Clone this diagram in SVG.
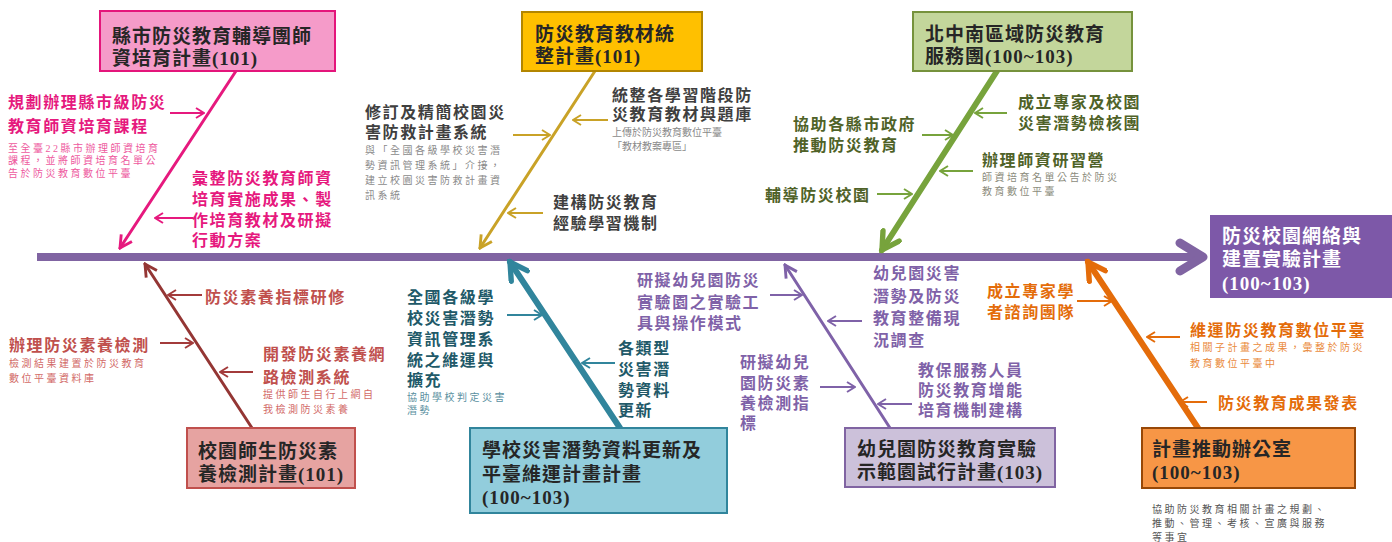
<svg xmlns="http://www.w3.org/2000/svg" width="1392" height="542" viewBox="0 0 1392 542">
<style>
text { font-family: "Liberation Serif", "Noto Sans CJK TC", "Noto Sans CJK SC", serif; }
.h { font-size: 19px; font-weight: 700; fill: #262626; letter-spacing: 1px; }
.hw { font-size: 19px; font-weight: 700; fill: #ffffff; letter-spacing: 1px; }
.m { font-size: 16px; font-weight: 700; letter-spacing: 1.6px; }
.s { font-size: 10px; letter-spacing: 2.5px; }
.box { stroke-width: 2; }
.arr { fill: none; stroke-width: 2; }
.bone { fill: none; stroke-linecap: round; }
</style>
<defs>
  <marker id="a-pink" viewBox="0 0 10 12" refX="9" refY="6" markerWidth="10" markerHeight="12" markerUnits="userSpaceOnUse" orient="auto"><path d="M1,1 L9,6 L1,11" fill="none" stroke="#E6197E" stroke-width="2"/></marker>
  <marker id="a-yel" viewBox="0 0 10 12" refX="9" refY="6" markerWidth="10" markerHeight="12" markerUnits="userSpaceOnUse" orient="auto"><path d="M1,1 L9,6 L1,11" fill="none" stroke="#C9A227" stroke-width="2"/></marker>
  <marker id="a-grn" viewBox="0 0 10 12" refX="9" refY="6" markerWidth="10" markerHeight="12" markerUnits="userSpaceOnUse" orient="auto"><path d="M1,1 L9,6 L1,11" fill="none" stroke="#77A33C" stroke-width="2"/></marker>
  <marker id="a-red" viewBox="0 0 10 12" refX="9" refY="6" markerWidth="10" markerHeight="12" markerUnits="userSpaceOnUse" orient="auto"><path d="M1,1 L9,6 L1,11" fill="none" stroke="#A33B3B" stroke-width="2"/></marker>
  <marker id="a-teal" viewBox="0 0 10 12" refX="9" refY="6" markerWidth="10" markerHeight="12" markerUnits="userSpaceOnUse" orient="auto"><path d="M1,1 L9,6 L1,11" fill="none" stroke="#31859C" stroke-width="2"/></marker>
  <marker id="a-pur" viewBox="0 0 10 12" refX="9" refY="6" markerWidth="10" markerHeight="12" markerUnits="userSpaceOnUse" orient="auto"><path d="M1,1 L9,6 L1,11" fill="none" stroke="#7F62A8" stroke-width="2"/></marker>
  <marker id="a-org" viewBox="0 0 10 12" refX="9" refY="6" markerWidth="10" markerHeight="12" markerUnits="userSpaceOnUse" orient="auto"><path d="M1,1 L9,6 L1,11" fill="none" stroke="#E46C0A" stroke-width="2"/></marker>

  <marker id="b-pink" viewBox="0 0 20 20" refX="18" refY="10" markerWidth="16" markerHeight="16" markerUnits="userSpaceOnUse" orient="auto"><path d="M3,2 L18,10 L3,18" fill="none" stroke="#E6197E" stroke-width="3.6"/></marker>
  <marker id="b-yel" viewBox="0 0 20 20" refX="18" refY="10" markerWidth="16" markerHeight="16" markerUnits="userSpaceOnUse" orient="auto"><path d="M3,2 L18,10 L3,18" fill="none" stroke="#C9A227" stroke-width="3.6"/></marker>
  <marker id="b-grn" viewBox="0 0 20 20" refX="17" refY="10" markerWidth="24" markerHeight="24" markerUnits="userSpaceOnUse" orient="auto"><path d="M3,2 L17,10 L3,18" fill="none" stroke="#77A33C" stroke-width="4.5" stroke-linecap="round"/></marker>
  <marker id="b-red" viewBox="0 0 20 20" refX="18" refY="10" markerWidth="16" markerHeight="16" markerUnits="userSpaceOnUse" orient="auto"><path d="M3,2 L18,10 L3,18" fill="none" stroke="#943634" stroke-width="3.6"/></marker>
  <marker id="b-teal" viewBox="0 0 20 20" refX="17" refY="10" markerWidth="24" markerHeight="24" markerUnits="userSpaceOnUse" orient="auto"><path d="M3,2 L17,10 L3,18" fill="none" stroke="#31859C" stroke-width="4.5" stroke-linecap="round"/></marker>
  <marker id="b-pur" viewBox="0 0 20 20" refX="18" refY="10" markerWidth="16" markerHeight="16" markerUnits="userSpaceOnUse" orient="auto"><path d="M3,2 L18,10 L3,18" fill="none" stroke="#7F62A8" stroke-width="3.6"/></marker>
  <marker id="b-org" viewBox="0 0 20 20" refX="17" refY="10" markerWidth="24" markerHeight="24" markerUnits="userSpaceOnUse" orient="auto"><path d="M3,2 L17,10 L3,18" fill="none" stroke="#E46C0A" stroke-width="4.5" stroke-linecap="round"/></marker>
</defs>

<rect x="0" y="0" width="1392" height="542" fill="#ffffff"/>

<!-- connectors -->
<g id="connectors">
  <!-- spine -->
  <line x1="37" y1="257" x2="1200" y2="257" stroke="#8064A2" stroke-width="8"/>
  <path d="M1180,243 L1203,257 L1180,271" fill="none" stroke="#8064A2" stroke-width="9" stroke-linecap="round" stroke-linejoin="round"/>

  <!-- bones -->
  <line class="bone" x1="236" y1="71" x2="120" y2="248" stroke="#E6197E" stroke-width="3" marker-end="url(#b-pink)"/>
  <line class="bone" x1="595" y1="71" x2="480" y2="248" stroke="#C9A227" stroke-width="3" marker-end="url(#b-yel)"/>
  <line class="bone" x1="997" y1="71" x2="882" y2="250" stroke="#77A33C" stroke-width="6" marker-end="url(#b-grn)"/>
  <line class="bone" x1="252" y1="428" x2="145" y2="264" stroke="#943634" stroke-width="3" marker-end="url(#b-red)"/>
  <line class="bone" x1="620" y1="428" x2="510" y2="262" stroke="#31859C" stroke-width="6" marker-end="url(#b-teal)"/>
  <line class="bone" x1="890" y1="428" x2="785" y2="265" stroke="#7F62A8" stroke-width="3" marker-end="url(#b-pur)"/>
  <line class="bone" x1="1198" y1="428" x2="1088" y2="262" stroke="#E46C0A" stroke-width="6" marker-end="url(#b-org)"/>

  <!-- small arrows -->
  <line class="arr" x1="170" y1="113" x2="204" y2="113" stroke="#E6197E" marker-end="url(#a-pink)"/>
  <line class="arr" x1="193" y1="218" x2="155" y2="218" stroke="#E6197E" marker-end="url(#a-pink)"/>

  <line class="arr" x1="513" y1="135" x2="550" y2="135" stroke="#C9A227" marker-end="url(#a-yel)"/>
  <line class="arr" x1="608" y1="120" x2="573" y2="120" stroke="#C9A227" marker-end="url(#a-yel)"/>
  <line class="arr" x1="543" y1="213" x2="508" y2="213" stroke="#C9A227" marker-end="url(#a-yel)"/>

  <line class="arr" x1="1007" y1="113" x2="975" y2="113" stroke="#77A33C" marker-end="url(#a-grn)"/>
  <line class="arr" x1="922" y1="135" x2="953" y2="135" stroke="#77A33C" marker-end="url(#a-grn)"/>
  <line class="arr" x1="973" y1="171" x2="940" y2="171" stroke="#77A33C" marker-end="url(#a-grn)"/>
  <line class="arr" x1="877" y1="194" x2="912" y2="194" stroke="#77A33C" marker-end="url(#a-grn)"/>

  <line class="arr" x1="202" y1="295" x2="168" y2="295" stroke="#A33B3B" marker-end="url(#a-red)"/>
  <line class="arr" x1="160" y1="343" x2="193" y2="343" stroke="#A33B3B" marker-end="url(#a-red)"/>
  <line class="arr" x1="253" y1="372" x2="220" y2="372" stroke="#A33B3B" marker-end="url(#a-red)"/>

  <line class="arr" x1="507" y1="315" x2="542" y2="315" stroke="#31859C" marker-end="url(#a-teal)"/>
  <line class="arr" x1="615" y1="363" x2="582" y2="363" stroke="#31859C" marker-end="url(#a-teal)"/>

  <line class="arr" x1="770" y1="295" x2="802" y2="295" stroke="#7F62A8" marker-end="url(#a-pur)"/>
  <line class="arr" x1="862" y1="321" x2="828" y2="321" stroke="#7F62A8" marker-end="url(#a-pur)"/>
  <line class="arr" x1="820" y1="387" x2="855" y2="387" stroke="#7F62A8" marker-end="url(#a-pur)"/>
  <line class="arr" x1="912" y1="404" x2="878" y2="404" stroke="#7F62A8" marker-end="url(#a-pur)"/>

  <line class="arr" x1="1077" y1="301" x2="1112" y2="301" stroke="#E46C0A" marker-end="url(#a-org)"/>
  <line class="arr" x1="1180" y1="337" x2="1147" y2="337" stroke="#E46C0A" marker-end="url(#a-org)"/>
  <line class="arr" x1="1207" y1="402" x2="1180" y2="402" stroke="#E46C0A" marker-end="url(#a-org)"/>
</g>

<!-- head -->
<g id="head">
  <rect x="1210" y="215" width="182" height="83" fill="#7D58A8"/>
  <text class="hw" x="1222" y="243">防災校園網絡與</text>
  <text class="hw" x="1222" y="266">建置實驗計畫</text>
  <text class="hw" x="1222" y="290">(100~103)</text>
</g>

<!-- top: pink -->
<g id="n-pink">
  <rect class="box" x="100" y="11" width="235" height="60" fill="#F59BC9" stroke="#E4157B"/>
  <text class="h" x="112" y="43">縣市防災教育輔導團師</text>
  <text class="h" x="112" y="65">資培育計畫(101)</text>
  <g fill="#E6197E">
    <text class="m" x="8" y="108">規劃辦理縣市級防災</text>
    <text class="m" x="8" y="132">教育師資培育課程</text>
    <text class="m" x="192" y="184">彙整防災教育師資</text>
    <text class="m" x="192" y="205">培育實施成果、製</text>
    <text class="m" x="192" y="226">作培育教材及研擬</text>
    <text class="m" x="192" y="246">行動方案</text>
  </g>
  <g fill="#EE5A9E">
    <text class="s" x="8" y="152">至全臺22縣市辦理師資培育</text>
    <text class="s" x="8" y="164">課程，並將師資培育名單公</text>
    <text class="s" x="8" y="177">告於防災教育數位平臺</text>
  </g>
</g>

<!-- top: yellow -->
<g id="n-yellow">
  <rect class="box" x="522" y="12" width="180" height="59" fill="#FFC000" stroke="#B38600"/>
  <text class="h" x="535" y="41">防災教育教材統</text>
  <text class="h" x="535" y="63">整計畫(101)</text>
  <g fill="#3F3F3F">
    <text class="m" x="365" y="118">修訂及精簡校園災</text>
    <text class="m" x="365" y="138">害防救計畫系統</text>
    <text class="m" x="612" y="101">統整各學習階段防</text>
    <text class="m" x="612" y="120">災教育教材與題庫</text>
    <text class="m" x="553" y="208">建構防災教育</text>
    <text class="m" x="553" y="229">經驗學習機制</text>
  </g>
  <g fill="#8A8A8A">
    <text class="s" x="365" y="154">與「全國各級學校災害潛</text>
    <text class="s" x="365" y="169">勢資訊管理系統」介接，</text>
    <text class="s" x="365" y="184">建立校園災害防救計畫資</text>
    <text class="s" x="365" y="199">訊系統</text>
    <text class="s" x="612" y="136" style="letter-spacing:0">上傳於防災教育數位平臺</text>
    <text class="s" x="612" y="150" style="letter-spacing:0">「教材教案專區」</text>
  </g>
</g>

<!-- top: green -->
<g id="n-green">
  <rect class="box" x="913" y="12" width="219" height="59" fill="#C3D69B" stroke="#76923C"/>
  <text class="h" x="925" y="41">北中南區域防災教育</text>
  <text class="h" x="925" y="63">服務團(100~103)</text>
  <g fill="#4F6228">
    <text class="m" x="1018" y="108">成立專家及校園</text>
    <text class="m" x="1018" y="129">災害潛勢檢核團</text>
    <text class="m" x="793" y="130">協助各縣市政府</text>
    <text class="m" x="793" y="151">推動防災教育</text>
    <text class="m" x="982" y="166">辦理師資研習營</text>
    <text class="m" x="765" y="201">輔導防災校園</text>
  </g>
  <g fill="#8C8C7C">
    <text class="s" x="982" y="181">師資培育名單公告於防災</text>
    <text class="s" x="982" y="195">教育數位平臺</text>
  </g>
</g>

<!-- bottom: red -->
<g id="n-red">
  <rect class="box" x="187" y="428" width="168" height="60" fill="#E6A3A1" stroke="#C0504D"/>
  <text class="h" x="198" y="458">校園師生防災素</text>
  <text class="h" x="198" y="481">養檢測計畫(101)</text>
  <g fill="#C0504D">
    <text class="m" x="205" y="303">防災素養指標研修</text>
    <text class="m" x="9" y="351">辦理防災素養檢測</text>
    <text class="m" x="263" y="360">開發防災素養網</text>
    <text class="m" x="263" y="383">路檢測系統</text>
  </g>
  <g fill="#D26A67">
    <text class="s" x="9" y="367">檢測結果建置於防災教育</text>
    <text class="s" x="9" y="382">數位平臺資料庫</text>
    <text class="s" x="263" y="398">提供師生自行上網自</text>
    <text class="s" x="263" y="413">我檢測防災素養</text>
  </g>
</g>

<!-- bottom: teal -->
<g id="n-teal">
  <rect class="box" x="470" y="428" width="257" height="85" fill="#92CDDC" stroke="#31859C"/>
  <text class="h" x="482" y="457">學校災害潛勢資料更新及</text>
  <text class="h" x="482" y="481">平臺維運計畫計畫</text>
  <text class="h" x="482" y="504">(100~103)</text>
  <g fill="#215968">
    <text class="m" x="407" y="303">全國各級學</text>
    <text class="m" x="407" y="324">校災害潛勢</text>
    <text class="m" x="407" y="345">資訊管理系</text>
    <text class="m" x="407" y="366">統之維運與</text>
    <text class="m" x="407" y="386">擴充</text>
    <text class="m" x="618" y="354">各類型</text>
    <text class="m" x="618" y="375">災害潛</text>
    <text class="m" x="618" y="396">勢資料</text>
    <text class="m" x="618" y="416">更新</text>
  </g>
  <g fill="#5A8FA0">
    <text class="s" x="407" y="401">協助學校判定災害</text>
    <text class="s" x="407" y="414">潛勢</text>
  </g>
</g>

<!-- bottom: purple -->
<g id="n-purple">
  <rect class="box" x="845" y="428" width="210" height="59" fill="#CCC1DA" stroke="#8064A2"/>
  <text class="h" x="857" y="456">幼兒園防災教育實驗</text>
  <text class="h" x="857" y="479">示範園試行計畫(103)</text>
  <g fill="#7F62A8">
    <text class="m" x="637" y="286">研擬幼兒園防災</text>
    <text class="m" x="637" y="308">實驗園之實驗工</text>
    <text class="m" x="637" y="329">具與操作模式</text>
    <text class="m" x="873" y="279">幼兒園災害</text>
    <text class="m" x="873" y="302">潛勢及防災</text>
    <text class="m" x="873" y="324">教育整備現</text>
    <text class="m" x="873" y="346">況調查</text>
    <text class="m" x="740" y="368">研擬幼兒</text>
    <text class="m" x="740" y="389">園防災素</text>
    <text class="m" x="740" y="409">養檢測指</text>
    <text class="m" x="740" y="429">標</text>
    <text class="m" x="918" y="376">教保服務人員</text>
    <text class="m" x="918" y="396">防災教育增能</text>
    <text class="m" x="918" y="416">培育機制建構</text>
  </g>
</g>

<!-- bottom: orange -->
<g id="n-orange">
  <rect class="box" x="1142" y="428" width="213" height="60" fill="#F79646" stroke="#984807"/>
  <text class="h" x="1152" y="456">計畫推動辦公室</text>
  <text class="h" x="1152" y="479">(100~103)</text>
  <g fill="#E46C0A">
    <text class="m" x="987" y="297">成立專家學</text>
    <text class="m" x="987" y="318">者諮詢團隊</text>
    <text class="m" x="1190" y="336">維運防災教育數位平臺</text>
    <text class="m" x="1218" y="409">防災教育成果發表</text>
  </g>
  <g fill="#EA8A3C">
    <text class="s" x="1190" y="351">相關子計畫之成果，彙整於防災</text>
    <text class="s" x="1190" y="367">教育數位平臺中</text>
  </g>
  <g fill="#555555">
    <text class="s" x="1152" y="513">協助防災教育相關計畫之規劃、</text>
    <text class="s" x="1152" y="527">推動、管理、考核、宣廣與服務</text>
    <text class="s" x="1152" y="541">等事宜</text>
  </g>
</g>
</svg>
